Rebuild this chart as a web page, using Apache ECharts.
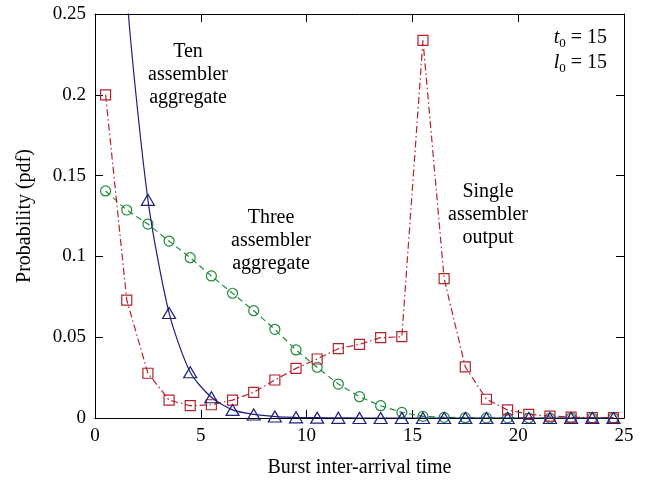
<!DOCTYPE html>
<html>
<head>
<meta charset="utf-8">
<script src="https://cdn.jsdelivr.net/npm/echarts@6/dist/echarts.min.js"></script>
<style>html,body{margin:0;padding:0;background:#fff}#c{width:647px;height:480px}</style>
</head>
<body>
<div id="c"></div>
<script>
var xValues = [0.5,1.5,2.5,3.5,4.5,5.5,6.5,7.5,8.5,9.5,10.5,11.5,12.5,13.5,14.5,15.5,16.5,17.5,18.5,19.5,20.5,21.5,22.5,23.5,24.5];
var single = [0.200,0.073,0.0277,0.0111,0.0076,0.0082,0.0111,0.0159,0.0235,0.0307,0.0365,0.0429,0.0456,0.0497,0.0503,0.2337,0.0862,0.0316,0.0116,0.0050,0.0023,0.0012,0.0006,0.0003,0.0002];
var three = [0.1405,0.1287,0.1200,0.1095,0.0992,0.0879,0.0772,0.0664,0.0549,0.0421,0.0314,0.0210,0.0132,0.0076,0.0035,0.0010,0.0004,0.0002,0.0001,0.0001,0.0000,0.0000,0.0000,0.0000,0.0000];
var ten = [0.50,0.263,0.135,0.065,0.0283,0.0128,0.0050,0.0022,0.0009,0.0004,0.0002,0.0001,0.0000,0.0000,0.0000,0.0000,0.0000,0.0000,0.0000,0.0000,0.0000,0.0000,0.0000,0.0000,0.0000];
var xTicks = [0,5,10,15,20,25];
var yTicks = [0,0.05,0.1,0.15,0.2,0.25];

function pairs(ys){ return xValues.map(function(x,i){return [x, ys[i]];}); }
var FONT = 'Liberation Serif';
var RED = '#b5222f', GREEN = '#1f8b3b', BLUE = '#1f1f7d';
var TXT = 20, TICK = 19;

var chart = echarts.init(document.getElementById('c'));
var axisCommon = {
  axisLine: {show: true, onZero: false, lineStyle: {color: '#000', width: 1}},
  axisTick: {show: true, inside: true, length: 8, lineStyle: {color: '#000'}},
  splitLine: {show: false}
};
chart.setOption({
  animation: false,
  backgroundColor: '#fff',
  grid: {left: 95, right: 23, top: 14, bottom: 62, containLabel: false, outerBoundsMode: 'none'},
  xAxis: [
    Object.assign({type: 'value', min: xTicks[0], max: xTicks[xTicks.length-1], interval: 5, position: 'bottom',
      name: 'Burst inter-arrival time', nameLocation: 'middle', nameGap: 40,
      nameTextStyle: {fontFamily: FONT, fontSize: TXT, color: '#000'},
      axisLabel: {fontFamily: FONT, fontSize: TICK, color: '#000', margin: 9}}, axisCommon),
    Object.assign({type: 'value', min: xTicks[0], max: xTicks[xTicks.length-1], interval: 5, position: 'top',
      axisLabel: {show: false}}, axisCommon)
  ],
  yAxis: [
    Object.assign({type: 'value', min: yTicks[0], max: yTicks[yTicks.length-1], interval: 0.05, position: 'left',
      name: 'Probability (pdf)', nameLocation: 'middle', nameGap: 60, nameRotate: 90,
      nameTextStyle: {fontFamily: FONT, fontSize: TXT, color: '#000'},
      axisLabel: {fontFamily: FONT, fontSize: TICK, color: '#000', margin: 9}}, axisCommon),
    Object.assign({type: 'value', min: yTicks[0], max: yTicks[yTicks.length-1], interval: 0.05, position: 'right',
      axisLabel: {show: false}}, axisCommon)
  ],
  series: [
    {type: 'line', name: 'Three', data: pairs(three), clip: true,
      symbol: 'circle', symbolSize: 10, showAllSymbol: true,
      lineStyle: {color: GREEN, width: 1.2, type: [6,4]},
      itemStyle: {color: 'rgba(0,0,0,0)', borderColor: GREEN, borderWidth: 1.2}, z: 3},
    {type: 'line', name: 'Single', data: pairs(single), clip: true,
      symbol: 'rect', symbolSize: 10, showAllSymbol: true,
      lineStyle: {color: RED, width: 1.2, type: [7,3,1.5,3]},
      itemStyle: {color: 'rgba(0,0,0,0)', borderColor: RED, borderWidth: 1.2}, z: 4},
    {type: 'line', name: 'Ten', data: pairs(ten), clip: true, smooth: 0.25,
      symbol: 'triangle', symbolSize: [13,11], showAllSymbol: true,
      lineStyle: {color: BLUE, width: 1.2},
      itemStyle: {color: 'rgba(0,0,0,0)', borderColor: BLUE, borderWidth: 1.2}, z: 5}
  ],
  graphic: [
    {type: 'text', x: 188, y: 75, style: {text: 'Ten\nassembler\naggregate', fontFamily: FONT, fontSize: TXT, lineHeight: 23, fill: '#000', align: 'center', verticalAlign: 'middle'}},
    {type: 'text', x: 271, y: 241, style: {text: 'Three\nassembler\naggregate', fontFamily: FONT, fontSize: TXT, lineHeight: 23, fill: '#000', align: 'center', verticalAlign: 'middle'}},
    {type: 'text', x: 488, y: 215, style: {text: 'Single\nassembler\noutput', fontFamily: FONT, fontSize: TXT, lineHeight: 23, fill: '#000', align: 'center', verticalAlign: 'middle'}},
    {type: 'text', x: 607, y: 50, style: {
      text: '{i|t}{s|0} = 15\n{i|l}{s|0} = 15',
      rich: {
        i: {fontFamily: FONT, fontStyle: 'italic', fontSize: TXT, fill: '#000', lineHeight: 25},
        s: {fontFamily: FONT, fontSize: 13, fill: '#000', verticalAlign: 'bottom', padding: [9,0,0,0], lineHeight: 25}
      },
      fontFamily: FONT, fontSize: TXT, fill: '#000', lineHeight: 25, align: 'right', verticalAlign: 'middle'}}
  ]
});
</script>
</body>
</html>
